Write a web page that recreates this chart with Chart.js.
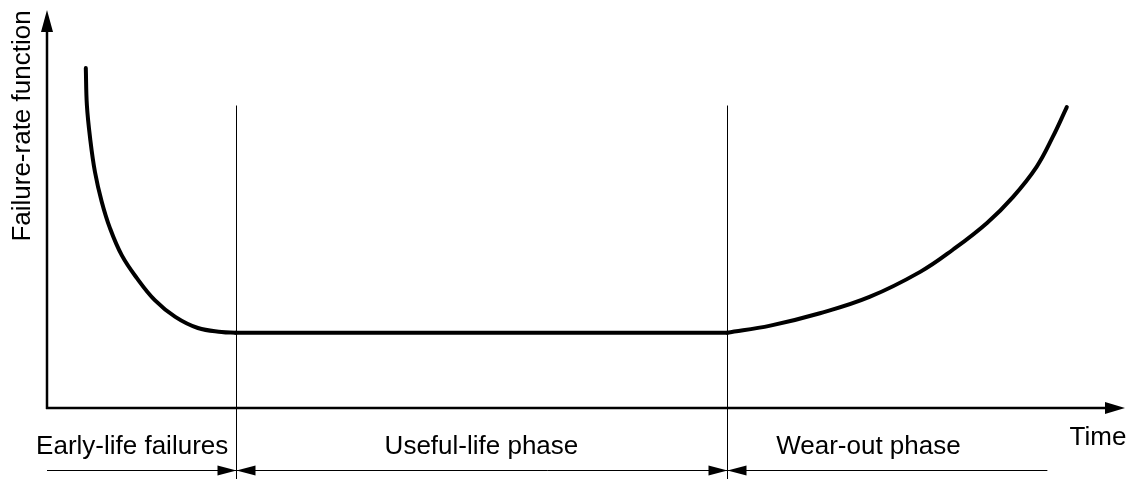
<!DOCTYPE html>
<html>
<head>
<meta charset="utf-8">
<script src="https://cdn.jsdelivr.net/npm/chart.js@4/dist/chart.umd.min.js"></script>
<style>
  html, body { margin: 0; padding: 0; background: #fff; }
  #wrap { width: 1137px; height: 479px; }
</style>
</head>
<body>
<div id="wrap"><canvas id="myChart" width="1137" height="479"></canvas></div>
<script>
// bathtub curve (time and rate in arbitrary units 0..100)
var earlyTime = [3.6, 3.7, 4.0, 4.45, 5.07, 5.84, 6.93, 8.32, 10.0, 11.9, 14.0, 16.2, 17.5];
var earlyRate = [85.4, 76.1, 67.8, 59.3, 51.9, 45.2, 38.4, 32.7, 27.1, 22.9, 20.1, 19.1, 18.9];
var usefulTime = [17.5, 63.1];
var usefulRate = [18.9, 18.9];
var wearTime = [63.1, 67.1, 71.7, 76.3, 81.0, 84.0, 87.2, 89.6, 91.8, 93.3, 94.6];
var wearRate = [18.9, 20.7, 23.8, 27.9, 34.2, 39.7, 46.5, 53.0, 60.6, 68.1, 75.6];

// phase boundaries (time) and the labels under the axis
var phaseBounds = [0, 17.5, 63.1, 92.8];
var phaseNames = ["Early-life failures", "Useful-life phase", "Wear-out phase"];
var phaseLabelAt = [7.9, 40.3, 76.2];
var boundaryTop = 76; // rate where the boundary lines start

var xTitle = "Time";
var yTitle = "Failure-rate function";

function toPoints(xs, ys) {
  return xs.map(function (t, i) {
    return { x: t, y: ys[i] };
  });
}

function curve(label, data, tension) {
  return {
    label: label,
    data: data,
    borderColor: "#000",
    borderWidth: 4,
    pointRadius: 0,
    fill: false,
    tension: tension,
    borderCapStyle: "round",
  };
}

var FONT = "26px 'Liberation Sans', Arial, sans-serif";

// dibuja ejes con flechas, líneas de fase y textos
var bathtubDecor = {
  id: "bathtubDecor",
  afterDraw: function (chart) {
    var c = chart.ctx;
    var xs = chart.scales.x;
    var ys = chart.scales.y;
    var x0 = xs.getPixelForValue(0);
    var y0 = ys.getPixelForValue(0);
    var xEnd = xs.getPixelForValue(100);
    var yEnd = ys.getPixelForValue(100);

    c.save();
    c.fillStyle = "#000";
    c.strokeStyle = "#000";

    // ejes
    c.lineWidth = 2.5;
    c.beginPath();
    c.moveTo(x0, y0 + 1);
    c.lineTo(x0, yEnd + 18);
    c.moveTo(x0 - 1, y0);
    c.lineTo(xEnd - 18, y0);
    c.stroke();

    // flecha eje y
    c.beginPath();
    c.moveTo(x0, yEnd);
    c.lineTo(x0 - 6, yEnd + 22);
    c.lineTo(x0 + 6, yEnd + 22);
    c.closePath();
    c.fill();
    // flecha eje x
    c.beginPath();
    c.moveTo(xEnd, y0);
    c.lineTo(xEnd - 20, y0 - 6);
    c.lineTo(xEnd - 20, y0 + 6);
    c.closePath();
    c.fill();

    // líneas verticales de fase
    c.lineWidth = 1;
    var bottom = chart.height;
    for (var i = 1; i < phaseBounds.length - 1; i++) {
      var bx = Math.round(xs.getPixelForValue(phaseBounds[i])) + 0.5;
      c.beginPath();
      c.moveTo(bx, ys.getPixelForValue(boundaryTop));
      c.lineTo(bx, bottom);
      c.stroke();
    }

    // línea inferior con flechas
    var ay = 470.5;
    c.beginPath();
    c.moveTo(xs.getPixelForValue(phaseBounds[0]), ay);
    c.lineTo(xs.getPixelForValue(phaseBounds[phaseBounds.length - 1]), ay);
    c.stroke();
    for (var j = 1; j < phaseBounds.length - 1; j++) {
      var px = Math.round(xs.getPixelForValue(phaseBounds[j])) + 0.5;
      c.beginPath();
      c.moveTo(px, ay);
      c.lineTo(px - 19, ay - 5);
      c.lineTo(px - 19, ay + 5);
      c.closePath();
      c.fill();
      c.beginPath();
      c.moveTo(px, ay);
      c.lineTo(px + 19, ay - 5);
      c.lineTo(px + 19, ay + 5);
      c.closePath();
      c.fill();
    }

    // textos
    c.font = FONT;
    c.textAlign = "center";
    c.textBaseline = "alphabetic";
    phaseNames.forEach(function (name, k) {
      c.fillText(name, xs.getPixelForValue(phaseLabelAt[k]), 454);
    });
    c.fillText(xTitle, 1098, 445);

    c.translate(30, 126);
    c.rotate(-Math.PI / 2);
    c.fillText(yTitle, 0, 0);
    c.restore();
  },
};

var ctx = document.getElementById("myChart").getContext("2d");
var myChart = new Chart(ctx, {
  type: "line",
  data: {
    datasets: [
      curve("Early-life", toPoints(earlyTime, earlyRate), 0.4),
      curve("Useful-life", toPoints(usefulTime, usefulRate), 0),
      curve("Wear-out", toPoints(wearTime, wearRate), 0.4),
    ],
  },
  options: {
    responsive: false,
    animation: false,
    layout: {
      padding: { left: 47, top: 10, right: 12, bottom: 71 },
    },
    scales: {
      x: { type: "linear", min: 0, max: 100, display: false },
      y: { type: "linear", min: 0, max: 100, display: false },
    },
    plugins: {
      legend: { display: false },
      tooltip: { enabled: false },
    },
  },
  plugins: [bathtubDecor],
});
</script>
</body>
</html>
